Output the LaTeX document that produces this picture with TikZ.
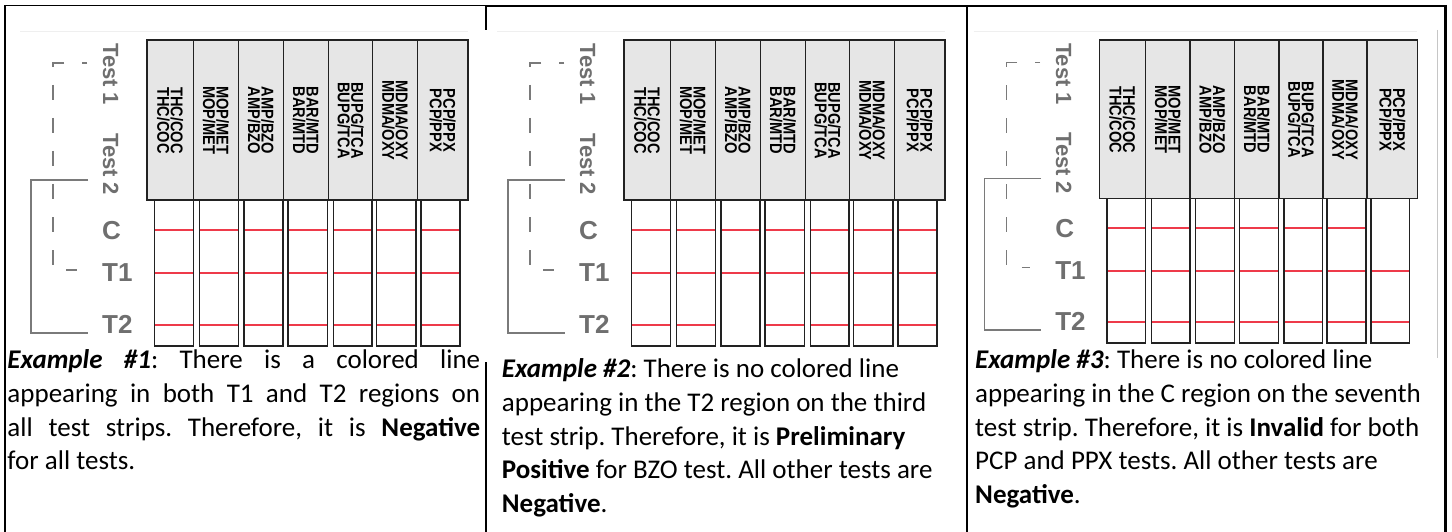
\documentclass[tikz,border=0pt]{standalone}
\usepackage{fontspec}
\setmainfont{Carlito}
\newfontfamily\labfont{Liberation Sans}
\newfontfamily\condfont{Liberation Sans}[FakeStretch=0.86]
\definecolor{labgray}{HTML}{6F6F6F}
\definecolor{brgray}{HTML}{7A7A7A}
\definecolor{hdrfill}{HTML}{E6E6E6}
\definecolor{redline}{HTML}{EE3A4A}
\definecolor{edge}{HTML}{222222}
\definecolor{faint}{HTML}{EFEFEF}
\tikzset{
  hdrbox/.style={draw=edge, fill=hdrfill, line width=1.6pt},
  hdrdiv/.style={draw=edge, line width=1.5pt},
  stripbox/.style={draw=edge, line width=1.3pt},
  redmark/.style={draw=redline, line width=1.7pt},
  hdrtxt/.style={rotate=-90, align=center, inner sep=0pt, font=\condfont\bfseries\fontsize{17}{13.5}\selectfont},
  testlab/.style={rotate=-90, anchor=base west, inner sep=0pt, text=labgray, font=\labfont\bfseries\fontsize{22}{22}\selectfont},
  rowlab/.style={anchor=base west, inner sep=0pt, text=labgray, font=\labfont\bfseries\fontsize{26}{26}\selectfont},
  brdash/.style={draw=brgray, line width=1.3pt, dash pattern=on 15pt off 18pt, dash phase=10pt},
  brsolid/.style={draw=brgray, line width=1.3pt},
  body/.style={anchor=base west, inner sep=0pt, font=\fontsize{27}{33.8}\selectfont\frenchspacing},
  frameline/.style={draw=black, line width=2pt},
}
\newcommand\drawpanel[3]{%
  \draw[faint, line width=0.8pt] (20,31) -- (468,31);
  \draw[hdrbox] (146.7,40) rectangle (468,200);
  \foreach \dx in {193.3,238.3,283.3,328.3,372.7,417.3} \draw[hdrdiv] (\dx,40) -- (\dx,200);
  \foreach \l/\r [count=\i] in {154.3/193.5,199.3/238.3,244/283,288/327.7,333.3/372,376.7/416,421/460} {
    \ifnum\i=#3\relax\else\draw[redmark] (\l,230) -- (\r,230);\fi
    \draw[redmark] (\l,273) -- (\r,273);
    \ifnum\i=#2\relax\else\draw[redmark] (\l,325) -- (\r,325);\fi
    \draw[stripbox] (\l,200) rectangle (\r,346);
  }
  \node[hdrtxt] (#1h1) at (170,120.5) {THC/COC\\THC/COC};
  \node[hdrtxt] (#1h2) at (215.8,120.5) {MOP/MET\\MOP/MET};
  \node[hdrtxt] (#1h3) at (260.8,120.5) {AMP/BZO\\AMP/BZO};
  \node[hdrtxt] (#1h4) at (305.8,120.5) {BAR/MTD\\BAR/MTD};
  \node[hdrtxt] (#1h5) at (350.5,120.5) {BUPG/TCA\\BUPG/TCA};
  \node[hdrtxt] (#1h6) at (395,120.5) {MDMA/OXY\\MDMA/OXY};
  \node[hdrtxt] (#1h7) at (442.6,120.5) {PCP/PPX\\PCP/PPX};
  \draw[brdash] (87,63) -- (53,63) -- (53,270) -- (77,270);
  \draw[brsolid] (88,180) -- (31,180) -- (31,333) -- (88,333);
  \node[testlab] (#1ta) at (103,43) {Test 1};
  \node[testlab] (#1tb) at (103,133) {Test 2};
  \node[rowlab] (#1c) at (102,239.5) {C};
  \node[rowlab] (#1ti) at (102,281.7) {T1};
  \node[rowlab] (#1tii) at (102,333.3) {T2};
}
\begin{document}
\begin{tikzpicture}[x=1pt,y=-1pt]
\useasboundingbox (0,0) rectangle (1452,532);
\fill[white] (0,0) rectangle (1452,532);
% panels
\begin{scope}\drawpanel{a}{0}{0}\end{scope}
\begin{scope}[shift={(477,0)}]\drawpanel{b}{3}{0}\end{scope}
\begin{scope}[shift={(954.1,0.4)},scale=0.99]\drawpanel{c}{0}{7}\end{scope}
% frame
\draw[black, line width=1pt] (5,6) -- (485.7,6);
\draw[frameline] (485.7,6) -- (1445.5,6);
\draw[frameline, line width=2.5pt] (5,5.5) -- (5,532);
\draw[frameline] (485.7,6) -- (485.7,30);
\draw[frameline] (485.7,362) -- (485.7,532);
\draw[frameline] (966.5,6) -- (966.5,532);
\draw[frameline, line width=2.5pt] (1445.5,5) -- (1445.5,532);
\draw[gray!45, line width=0.8pt] (1437.7,30) -- (1437.7,358);
% texts
\node[body] (a1) at (7.3,368.5) {\makebox[472.7pt][s]{\textbf{\textit{Example \#1}}: There is a colored line}};
\node[body] (a2) at (7.3,402.3) {\makebox[472.7pt][s]{appearing in both T1 and T2 regions on}};
\node[body] (a3) at (7.3,436.1) {\makebox[472.7pt][s]{all test strips. Therefore, it is \textbf{Negative}}};
\node[body] (a4) at (7.3,469.9) {for all tests.};
\node[body] (b1) at (501.7,377.5) {\textbf{\textit{Example \#2}}: There is no colored line};
\node[body] (b2) at (501.7,411.3) {appearing in the T2 region on the third};
\node[body] (b3) at (501.7,445.1) {test strip. Therefore, it is \textbf{Preliminary}};
\node[body] (b4) at (501.7,478.9) {\textbf{Positive} for BZO test. All other tests are};
\node[body] (b5) at (501.7,512.7) {\textbf{Negative}.};
\node[body] (c1) at (975,368.5) {\textbf{\textit{Example \#3}}: There is no colored line};
\node[body] (c2) at (975,402.3) {appearing in the C region on the seventh};
\node[body] (c3) at (975,436.1) {test strip. Therefore, it is \textbf{Invalid} for both};
\node[body] (c4) at (975,469.9) {PCP and PPX tests. All other tests are};
\node[body] (c5) at (975,503.7) {\textbf{Negative}.};
\end{tikzpicture}
\end{document}
